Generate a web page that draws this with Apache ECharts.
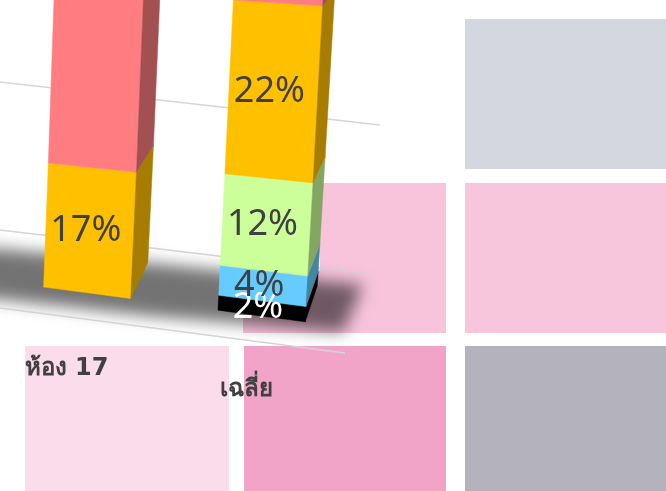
<!DOCTYPE html>
<html>
<head>
<meta charset="utf-8">
<script src="https://cdn.jsdelivr.net/npm/echarts@6.0.0/dist/echarts.min.js"></script>
<style>
  html, body { margin: 0; padding: 0; background: #ffffff; }
  #chart { width: 666px; height: 491px; }
</style>
</head>
<body>
<div id="chart"></div>
<script>
// Share of each level per room (percent), stacked bottom to top
const categories = ['ห้อง 17', 'เฉลี่ย'];
const blackShare = [0, 2];
const blueShare = [0, 4];
const greenShare = [0, 12];
const yellowShare = [17, 22];
const redShare = [83, 60];
const gridValues = [0, 20, 40, 60, 80, 100];

const stackOrder = [blackShare, blueShare, greenShare, yellowShare, redShare];
const frontColors = ['#000000', '#66ccff', '#ccff99', '#ffc000', '#ff7c80'];
const sideColors = ['#000000', '#4286a6', '#84a663', '#a67d00', '#a35053'];
const topColors = ['#222222', '#8fdcff', '#ddffbb', '#ffd24d', '#ff9fa2'];
const labelColors = ['#ffffff', '#404040', '#404040', '#404040', '#404040'];

// stacked segments: [category, start, end, level]
const segments = [];
categories.forEach((c, i) => {
  let acc = 0;
  stackOrder.forEach((arr, s) => {
    segments.push([i, acc, acc + arr[i], s]);
    acc += arr[i];
  });
});

// perspective of the 3D scene
const PX_PER_UNIT = 7.156;
const P1 = 0.00158;   // vertical growth to the right
const P2 = 0.00815;   // vertical growth with height
const FLOOR_SLOPE = 0.133;
const BAR_FRAC = 0.5;
const AXIS_MAX = 40;

function makeProjector(api) {
  const o = api.coord([0, 0]);
  const band = api.size([1, 0])[0];
  const barW = band * BAR_FRAC;
  const xRef = o[0] - barW / 2;
  const yBase = o[1];
  const fn = function (xf, v, depth) {
    const dx0 = xf - xRef;
    const flat = yBase - api.coord([0, v])[1];
    const vpx = flat * (1 + (P1 * dx0 + P2 * v) / PX_PER_UNIT);
    const Y = yBase + FLOOR_SLOPE * dx0 - vpx + depth * (-36 + 0.55 * v);
    const X = xf + v * (0.28 + 0.0006 * dx0) + depth * (17 - 0.028 * (dx0 - barW));
    return [X, Y];
  };
  fn.barW = barW;
  fn.yBase = yBase;
  return fn;
}

function renderBar(params, api) {
  const cat = api.value(0), v0 = api.value(1), v1 = api.value(2), s = api.value(3);
  if (v1 - v0 <= 0) return null;
  const proj = makeProjector(api);
  const cx = api.coord([cat, 0])[0];
  const xl = cx - proj.barW / 2, xr = cx + proj.barW / 2;
  const children = [
    {
      type: 'polygon', z2: 1,
      shape: { points: [proj(xl, v0, 0), proj(xr, v0, 0), proj(xr, v1, 0), proj(xl, v1, 0)] },
      style: { fill: frontColors[s], stroke: frontColors[s], lineWidth: 0.5 }
    },
    {
      type: 'polygon', z2: 1,
      shape: { points: [proj(xr, v0, 0), proj(xr, v0, 1), proj(xr, v1, 1), proj(xr, v1, 0)] },
      style: { fill: sideColors[s], stroke: sideColors[s], lineWidth: 0.5 }
    }
  ];
  if (s === stackOrder.length - 1) {
    children.push({
      type: 'polygon', z2: 1,
      shape: { points: [proj(xl, v1, 0), proj(xr, v1, 0), proj(xr, v1, 1), proj(xl, v1, 1)] },
      style: { fill: topColors[s] }
    });
  }
  const mid = proj(cx - 4, (v0 + v1) / 2, 0);
  children.push({
    type: 'text', z2: 100,
    x: mid[0], y: mid[1],
    style: {
      text: (v1 - v0) + '%',
      fill: labelColors[s],
      font: '36px "Noto Sans", sans-serif',
      align: 'center', verticalAlign: 'middle'
    }
  });
  return { type: 'group', children: children };
}

// category names sit on the floor in front of each bar
function renderCategory(params, api) {
  const cat = api.value(0);
  const proj = makeProjector(api);
  const cx = api.coord([cat, 0])[0];
  const corner = proj(cx - proj.barW / 2, 0, 0);
  return {
    type: 'text',
    x: corner[0] + 23 + 6 * cat,
    y: corner[1] + 82 - 2 * cat,
    style: {
      text: categories[cat],
      fill: '#404040',
      font: 'bold 24px "DejaVu Sans", "Noto Sans", sans-serif',
      align: 'center', verticalAlign: 'middle'
    }
  };
}

function renderWallLine(params, api) {
  const g = api.value(1);
  const proj = makeProjector(api);
  const flat = proj.yBase - api.coord([0, g])[1];
  return {
    type: 'line',
    shape: {
      x1: 0, y1: proj.yBase - 57 - flat * 1.034,
      x2: 370 + 0.5 * g, y2: proj.yBase - 13 - flat * 1.041
    },
    style: { stroke: '#d6d6d6', lineWidth: 1.6 }
  };
}

const chart = echarts.init(document.getElementById('chart'), null, { renderer: 'canvas' });

const baseY = 287;
const gridHeight = AXIS_MAX * PX_PER_UNIT;

chart.setOption({
  animation: false,
  backgroundColor: '#ffffff',
  grid: { left: -6.25, width: 355, top: baseY - gridHeight, height: gridHeight, containLabel: false },
  xAxis: { type: 'category', data: categories, show: false, boundaryGap: true },
  yAxis: { type: 'value', min: 0, max: AXIS_MAX, interval: 20, show: false },
  graphic: [
    // tiles behind the chart
    { type: 'rect', z: 0, shape: { x: 465, y: 19, width: 201, height: 150 }, style: { fill: '#d4d7df' } },
    { type: 'polygon', z: 0, shape: { points: [[320, 183], [446, 183], [446, 333], [243, 333], [243, 262], [320, 270]] }, style: { fill: '#f7c4dc' } },
    { type: 'rect', z: 0, shape: { x: 465, y: 183, width: 201, height: 150 }, style: { fill: '#f7c5dc' } },
    { type: 'rect', z: 0, shape: { x: 25, y: 346, width: 204, height: 145 }, style: { fill: '#fbdcea' } },
    { type: 'rect', z: 0, shape: { x: 244, y: 346, width: 202, height: 145 }, style: { fill: '#f1a4c8' } },
    { type: 'rect', z: 0, shape: { x: 465, y: 346, width: 201, height: 145 }, style: { fill: '#b3b2bd' } },
    // blurred floor shadow (only the shadow is on screen)
    {
      type: 'polygon', z: 2,
      shape: { points: [[-2030, 246], [-1850, 263], [-1637, 285], [-1657, 332], [-1850, 316], [-2030, 296]] },
      style: { fill: '#000', shadowColor: 'rgba(0,0,0,0.55)', shadowBlur: 16, shadowOffsetX: 2000 }
    },
    // front edge of the floor
    { type: 'line', z: 2, shape: { x1: 0, y1: 308, x2: 345, y2: 353 }, style: { stroke: '#d4d4d4', lineWidth: 1.6 } }
  ],
  series: [
    {
      type: 'custom', z: 1, silent: true,
      renderItem: renderWallLine,
      data: gridValues.map(g => [0, g])
    },
    {
      type: 'custom', z: 3, silent: true,
      renderItem: renderBar,
      data: segments
    },
    {
      type: 'custom', z: 3, silent: true,
      renderItem: renderCategory,
      data: categories.map((c, i) => [i, 0])
    }
  ]
});
</script>
</body>
</html>
